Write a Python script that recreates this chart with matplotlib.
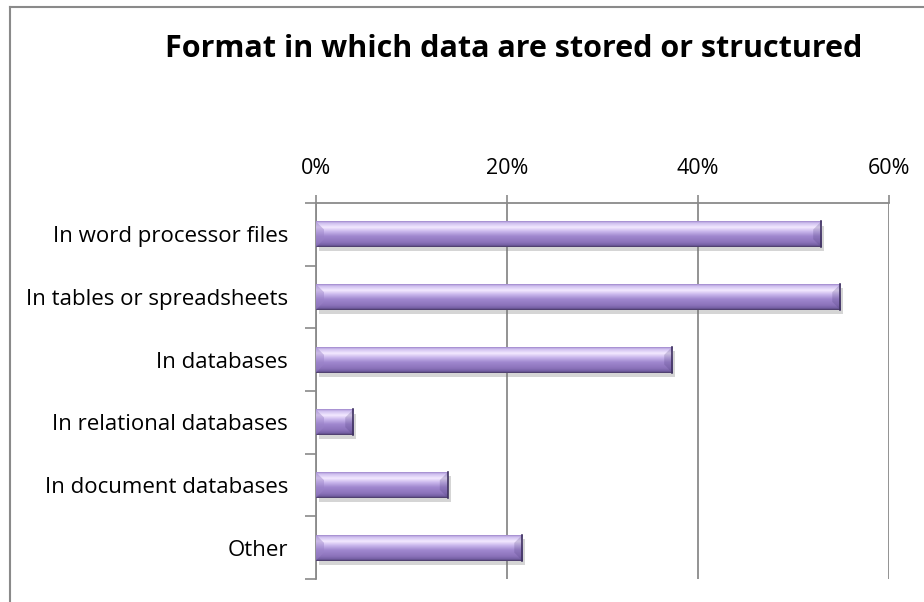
import matplotlib
matplotlib.use("Agg")
import matplotlib.pyplot as plt
import numpy as np
from matplotlib.colors import LinearSegmentedColormap
from matplotlib.lines import Line2D
from matplotlib.patches import Polygon
from matplotlib.ticker import FixedLocator, PercentFormatter
from matplotlib.transforms import IdentityTransform
import matplotlib.patheffects as pe

# data
categories = ["In word processor files", "In tables or spreadsheets", "In databases",
              "In relational databases", "In document databases", "Other"]
shares = [52.9, 54.9, 37.3, 3.9, 13.8, 21.6]
x_ticks = [0, 20, 40, 60]

FONT = "Open Sans"
GRAY = "#8a8a8a"

# vertical gradient used to fake the glossy bar look
bar_cmap = LinearSegmentedColormap.from_list("glossy", [
    (0.00, "#9c84c9"),
    (0.07, "#cdbdee"),
    (0.24, "#f3e9ff"),
    (0.40, "#c9b6ec"),
    (0.58, "#a088cf"),
    (0.82, "#8b72ba"),
    (0.93, "#735ea2"),
    (1.00, "#45375f"),
])

fig = plt.figure(figsize=(9.24, 6.02), dpi=100)
ax = fig.add_axes([316 / 924, 1 - 579 / 602, 573 / 924, 376 / 602])

y = np.arange(len(categories))
bars = ax.barh(y, shares, height=0.41, color="#a088cf", linewidth=0, zorder=3,
               path_effects=[pe.SimplePatchShadow(offset=(2, -3), shadow_rgbFace="#777777", alpha=0.3),
                             pe.Normal()])

ax.set_xlim(0, 60)
ax.set_ylim(len(categories) - 0.5, -0.5)

grad = np.linspace(0, 1, 256).reshape(-1, 1)
for bar in bars:
    x0, y0 = bar.get_x(), bar.get_y()
    w, h = bar.get_width(), bar.get_height()
    im = ax.imshow(grad, cmap=bar_cmap, extent=[x0, x0 + w, y0 + h, y0],
                   origin="upper", aspect="auto", zorder=4, interpolation="bilinear")
    im.set_clip_path(bar)

ax.set_xlim(0, 60)
ax.set_ylim(len(categories) - 0.5, -0.5)

# bevelled ends, drawn in pixel space
b = 8
for bar in bars:
    (l, top), (r, bot) = ax.transData.transform(
        [(bar.get_x(), bar.get_y()), (bar.get_x() + bar.get_width(), bar.get_y() + bar.get_height())])
    top, bot = max(top, bot), min(top, bot)
    bb = min(b, (r - l) / 2, (top - bot) / 2)
    ax.add_artist(Polygon([(r, top), (r - bb, top - bb), (r - bb, bot + bb), (r, bot)],
                          closed=True, transform=IdentityTransform(), facecolor="#4a3a78",
                          alpha=0.22, linewidth=0, zorder=5))
    ax.add_artist(Polygon([(l, top), (l + bb, top - bb), (l + bb, bot + bb), (l, bot)],
                          closed=True, transform=IdentityTransform(), facecolor="#9a82c8",
                          alpha=0.45, linewidth=0, zorder=5))
    ax.add_artist(Line2D([r, r], [bot, top], transform=IdentityTransform(), color="#3f3260",
                         lw=1.2, zorder=6))

# axis on top
ax.xaxis.tick_top()
ax.set_xticks(x_ticks)
ax.xaxis.set_major_formatter(PercentFormatter(decimals=0))
ax.tick_params(axis="x", which="major", length=6, width=1.2, color=GRAY, pad=11,
               labelsize=15.5, labelcolor="black")
for lbl in ax.get_xticklabels():
    lbl.set_fontfamily(FONT)

# category labels between boundary ticks
ax.set_yticks(y)
ax.set_yticklabels(categories, fontfamily=FONT, fontsize=16)
ax.yaxis.set_minor_locator(FixedLocator(np.arange(-0.5, len(categories), 1.0)))
ax.tick_params(axis="y", which="major", length=0, pad=20)
ax.tick_params(axis="y", which="minor", length=8, width=1.2, color=GRAY)

ax.grid(axis="x", color=GRAY, linewidth=1.3, zorder=0)
ax.set_axisbelow(True)
for side in ["right", "bottom"]:
    ax.spines[side].set_visible(False)
for side in ["top", "left"]:
    ax.spines[side].set_color(GRAY)
    ax.spines[side].set_linewidth(1.3)

fig.text(514 / 924, 1 - 57 / 602, "Format in which data are stored or structured",
         ha="center", va="baseline", fontsize=22, fontweight="bold", fontfamily=FONT)

# chart area border (only left and top are visible in the crop)
fig.add_artist(Line2D([10 / 924, 10 / 924], [0, 1 - 7 / 602], color=GRAY, lw=1.5))
fig.add_artist(Line2D([10 / 924, 1], [1 - 7 / 602, 1 - 7 / 602], color=GRAY, lw=1.5))

fig.savefig("out.png", dpi=100)
